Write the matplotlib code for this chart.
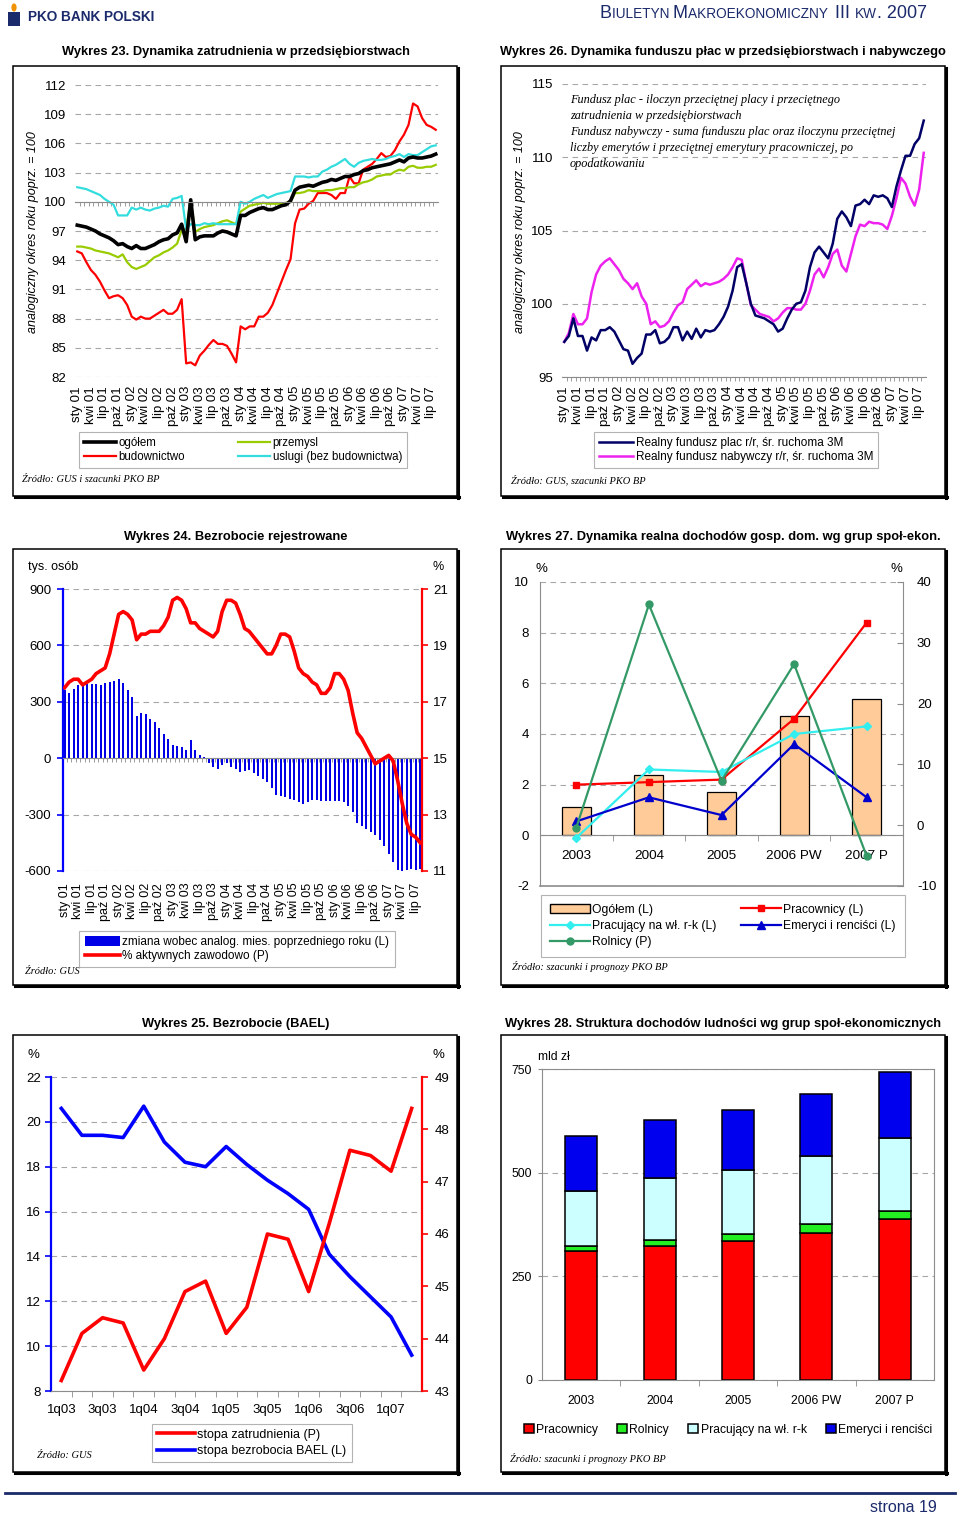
import numpy as np
import matplotlib
matplotlib.use('Agg')
import matplotlib.pyplot as plt
from matplotlib import font_manager
from matplotlib.patches import Rectangle, Patch, Circle
from matplotlib.lines import Line2D
from matplotlib.offsetbox import TextArea, HPacker, AnnotationBbox

# ============================ DATA ============================
month_labels = ['sty 01', 'kwi 01', 'lip 01', 'paź 01', 'sty 02', 'kwi 02', 'lip 02', 'paź 02',
                'sty 03', 'kwi 03', 'lip 03', 'paź 03', 'sty 04', 'kwi 04', 'lip 04', 'paź 04',
                'sty 05', 'kwi 05', 'lip 05', 'paź 05', 'sty 06', 'kwi 06', 'lip 06', 'paź 06',
                'sty 07', 'kwi 07', 'lip 07']

# Wykres 23 (monthly, sty 01 - sie 07)
w23_ogolem = [97.6, 97.5, 97.4, 97.2, 97.0, 96.7, 96.5, 96.3, 96.0, 95.6,
              95.7, 95.4, 95.2, 95.5, 95.2, 95.2, 95.4, 95.6, 95.9, 96.1,
              96.2, 96.6, 96.8, 97.7, 95.9, 100.2, 96.1, 96.4, 96.5, 96.5,
              96.5, 96.8, 97.0, 96.9, 96.7, 96.5, 98.6, 98.6, 98.9, 99.1,
              99.3, 99.4, 99.2, 99.2, 99.4, 99.6, 99.7, 100.1, 101.2, 101.5,
              101.6, 101.7, 101.6, 101.8, 102.0, 102.1, 102.3, 102.2, 102.4, 102.6,
              102.6, 102.8, 102.9, 103.2, 103.3, 103.5, 103.6, 103.7, 103.8, 103.9,
              104.1, 104.3, 104.1, 104.5, 104.6, 104.5, 104.5, 104.6, 104.7, 104.9]
w23_budownictwo = [94.9, 94.7, 93.8, 93.0, 92.5, 91.8, 90.9, 90.1, 90.3, 90.4,
                   90.1, 89.4, 88.2, 87.9, 88.2, 88.0, 88.0, 88.3, 88.6, 88.9,
                   88.5, 88.5, 88.9, 90.0, 83.4, 83.5, 83.2, 84.2, 84.7, 85.3,
                   85.8, 85.4, 85.4, 85.2, 84.4, 83.5, 87.2, 86.9, 87.2, 87.2,
                   88.2, 88.2, 88.6, 89.4, 90.6, 91.8, 93.0, 94.1, 97.8, 99.2,
                   99.3, 99.8, 100.1, 100.9, 100.9, 100.9, 100.7, 100.3, 100.9, 100.9,
                   102.6, 101.9, 101.9, 103.3, 103.6, 103.9, 104.4, 105.0, 104.6, 104.7,
                   105.3, 106.2, 106.9, 107.9, 110.1, 109.8, 108.6, 107.9, 107.7, 107.4]
w23_przemysl = [95.4, 95.4, 95.3, 95.2, 95.0, 94.9, 94.8, 94.7, 94.5, 94.3,
                94.6, 93.8, 93.3, 93.1, 93.3, 93.5, 93.9, 94.3, 94.5, 94.8,
                95.0, 95.3, 95.7, 97.1, 97.2, 100.2, 96.9, 97.2, 97.4, 97.5,
                97.6, 97.8, 98.0, 98.1, 97.9, 97.7, 99.0, 99.3, 99.6, 99.7,
                99.8, 99.9, 99.8, 99.8, 99.8, 99.8, 99.9, 100.0, 100.9, 100.9,
                101.0, 101.2, 101.1, 101.1, 101.1, 101.2, 101.2, 101.3, 101.4, 101.4,
                101.5, 101.5, 101.8, 102.0, 102.1, 102.3, 102.6, 102.7, 102.8, 102.8,
                103.1, 103.3, 103.2, 103.6, 103.7, 103.5, 103.5, 103.6, 103.6, 103.8]
w23_uslugi = [101.5, 101.4, 101.3, 101.1, 100.9, 100.7, 100.3, 100.0, 99.7, 98.6,
              98.6, 98.6, 99.4, 99.2, 99.4, 99.2, 99.1, 99.3, 99.4, 99.6,
              99.5, 100.3, 100.4, 100.6, 97.2, 97.7, 97.6, 97.6, 97.8, 97.7,
              97.8, 97.7, 97.7, 97.7, 97.7, 97.7, 100.0, 99.8, 100.0, 100.3,
              100.5, 100.7, 100.4, 100.6, 100.8, 100.9, 101.0, 101.1, 102.6, 102.6,
              102.6, 102.5, 102.6, 102.6, 103.1, 103.3, 103.6, 103.8, 104.1, 104.4,
              103.9, 103.6, 104.0, 104.2, 104.3, 104.4, 104.3, 104.3, 104.4, 104.6,
              104.7, 104.9, 104.6, 104.9, 104.8, 104.8, 105.1, 105.4, 105.7, 105.8]

# Wykres 26 (monthly)
w26_fundusz_plac = [97.4, 97.8, 99.0, 97.8, 97.8, 96.8, 97.7, 97.5, 98.2, 98.2,
                    98.4, 98.1, 97.5, 96.9, 96.8, 95.9, 96.3, 96.6, 97.9, 97.9,
                    98.2, 97.3, 97.4, 97.7, 98.4, 98.4, 97.5, 98.1, 97.6, 98.3,
                    97.7, 98.2, 98.1, 98.2, 98.6, 99.1, 99.8, 100.9, 102.5, 102.7,
                    101.4, 100.0, 99.2, 99.1, 99.0, 98.8, 98.6, 98.1, 98.3, 99.0,
                    99.6, 100.0, 100.1, 100.9, 102.5, 103.5, 103.9, 103.5, 103.1, 104.1,
                    105.8, 106.3, 105.9, 105.3, 106.7, 106.8, 107.1, 106.8, 107.4, 107.3,
                    107.4, 107.2, 106.6, 108.0, 109.1, 110.1, 110.1, 110.9, 111.3, 112.5]
w26_fundusz_nabywczy = [97.4, 98.0, 99.3, 98.6, 98.6, 99.0, 100.8, 102.0, 102.6, 102.9,
                        103.1, 102.7, 102.3, 101.7, 101.4, 101.0, 101.4, 100.5, 100.0, 98.6,
                        98.8, 98.4, 98.5, 98.8, 99.4, 99.9, 100.1, 101.0, 101.3, 101.6,
                        101.2, 101.4, 101.3, 101.4, 101.5, 101.7, 102.0, 102.5, 103.1, 103.0,
                        101.4, 99.9, 99.6, 99.3, 99.2, 99.1, 98.8, 99.0, 99.4, 99.7,
                        99.7, 99.6, 99.6, 100.0, 100.9, 102.0, 102.4, 101.8, 102.5, 103.4,
                        103.7, 102.6, 102.2, 103.4, 104.6, 105.4, 105.3, 105.6, 105.5, 105.5,
                        105.4, 105.1, 106.0, 107.2, 108.6, 108.2, 107.3, 106.7, 107.8, 110.3]

# Wykres 24 (monthly)
w24_zmiana = [362, 348, 366, 389, 389, 394, 394, 394, 392, 398,
              406, 412, 419, 401, 362, 327, 225, 241, 234, 211,
              192, 163, 131, 103, 69, 66, 57, 43, 96, 43,
              18, 7, -28, -46, -55, -37, -28, -46, -55, -73,
              -67, -64, -78, -96, -108, -126, -156, -197, -202, -209,
              -215, -220, -233, -245, -233, -224, -220, -227, -227, -227,
              -227, -227, -233, -256, -286, -344, -362, -375, -392, -410,
              -437, -469, -508, -552, -596, -600, -596, -588, -593, -588]
w24_stopa = [17.5, 17.7, 17.8, 17.8, 17.6, 17.7, 17.8, 18.0, 18.1, 18.2,
             18.7, 19.4, 20.1, 20.2, 20.1, 19.9, 19.2, 19.4, 19.4, 19.5,
             19.5, 19.5, 19.7, 20.0, 20.6, 20.7, 20.6, 20.3, 19.8, 19.8,
             19.6, 19.5, 19.4, 19.3, 19.5, 20.2, 20.6, 20.6, 20.5, 20.1,
             19.6, 19.5, 19.3, 19.1, 18.9, 18.7, 18.7, 19.0, 19.4, 19.4,
             19.3, 18.8, 18.2, 18.0, 17.9, 17.7, 17.6, 17.3, 17.3, 17.5,
             18.0, 18.0, 17.8, 17.4, 16.6, 15.9, 15.7, 15.4, 15.1, 14.8,
             14.9, 15.0, 15.1, 14.9, 14.2, 13.4, 12.7, 12.3, 12.2, 12.0]

# Wykres 27
w27_kategorie = ['2003', '2004', '2005', '2006 PW', '2007 P']
w27_ogolem = [1.1, 2.4, 1.7, 4.7, 5.4]
w27_pracownicy = [2.0, 2.1, 2.2, 4.6, 8.4]
w27_pracujacy = [-0.1, 2.6, 2.5, 4.0, 4.3]
w27_emeryci = [0.55, 1.5, 0.8, 3.6, 1.5]
w27_rolnicy = [-0.4, 36.3, 7.3, 26.5, -5.1]

# Wykres 25 (quarterly)
w25_kwartaly = ['1q03', '2q03', '3q03', '4q03', '1q04', '2q04', '3q04', '4q04', '1q05',
                '2q05', '3q05', '4q05', '1q06', '2q06', '3q06', '4q06', '1q07', '2q07']
w25_bezrobocie = [20.6, 19.4, 19.4, 19.3, 20.7, 19.1, 18.2, 18.0, 18.9,
                  18.1, 17.4, 16.8, 16.1, 14.1, 13.1, 12.2, 11.3, 9.6]
w25_zatrudnienie = [43.2, 44.1, 44.4, 44.3, 43.4, 44.0, 44.9, 45.1, 44.1,
                    44.6, 46.0, 45.9, 44.9, 46.2, 47.6, 47.5, 47.2, 48.4]

# Wykres 28
w28_kategorie = ['2003', '2004', '2005', '2006 PW', '2007 P']
w28_pracownicy = [311, 322, 336, 354, 389]
w28_rolnicy = [11, 16, 16, 23, 19]
w28_pracujacy = [134, 150, 155, 162, 175]
w28_emeryci = [133, 140, 143, 151, 159]

# ============================ STYLE ============================
W, H = 960, 1519
names = {f.name for f in font_manager.fontManager.ttflist}
SANS = 'Liberation Sans' if 'Liberation Sans' in names else 'DejaVu Sans'
SERIF = 'Liberation Serif' if 'Liberation Serif' in names else 'DejaVu Serif'
NARROW = 'Liberation Sans Narrow' if 'Liberation Sans Narrow' in names else None
plt.rcParams['font.family'] = [SANS, 'DejaVu Sans']
plt.rcParams['axes.unicode_minus'] = False

NAVY = '#1B2A6B'
GRID = '#A6A6A6'
GRAY = '#8C8C8C'
DASH = (0, (5, 4))
TICK = 9.5

fig = plt.figure(figsize=(W / 100, H / 100), dpi=100)


def add_ax(x0, y0, x1, y1):
    return fig.add_axes([x0 / W, 1 - y1 / H, (x1 - x0) / W, (y1 - y0) / H])


def ftext(x, y, s, **kw):
    kw.setdefault('va', 'center')
    return fig.text(x / W, 1 - y / H, s, **kw)


def frame(x0, y0, x1, y1):
    fig.add_artist(Rectangle((x0 / W, 1 - y1 / H), (x1 - x0) / W, (y1 - y0) / H,
                             transform=fig.transFigure, fill=False, ec='black', lw=1.1))
    fig.add_artist(Line2D([(x1 + 1) / W] * 2, [1 - (y0 + 2) / H, 1 - (y1 + 2) / H],
                          transform=fig.transFigure, color='black', lw=2.2))
    fig.add_artist(Line2D([(x0 + 2) / W, (x1 + 2) / W], [1 - (y1 + 1) / H] * 2,
                          transform=fig.transFigure, color='black', lw=2.2))


def title(xc, y, s):
    if NARROW:
        ftext(xc, y, s, ha='center', fontsize=10.5, fontweight='bold', family=NARROW)
    else:
        ftext(xc, y, s, ha='center', fontsize=9.3, fontweight='bold')


def source(x, y, s):
    ftext(x, y, s, family=SERIF, style='italic', fontsize=7.5)


def legend(handles, labels, xc, yc, ncol, **kw):
    opts = dict(loc='center', bbox_to_anchor=(xc / W, 1 - yc / H), ncol=ncol, frameon=True,
                fancybox=False, edgecolor='#A0A0A0', fontsize=8.5, borderpad=0.35,
                labelspacing=0.15, handletextpad=0.2, borderaxespad=0)
    opts.update(kw)
    leg = fig.legend(handles, labels, **opts)
    leg.get_frame().set_linewidth(0.8)
    return leg


def month_axis(ax, pad, size):
    sec = ax.secondary_xaxis(0)
    sec.set_xticks(np.arange(0, 3 * len(month_labels), 3), labels=month_labels)
    sec.tick_params(axis='x', length=0, pad=pad, labelsize=size, rotation=90)
    for s in sec.spines.values():
        s.set_visible(False)
    return sec


x80 = np.arange(len(w23_ogolem))

# ============================ HEADER / FOOTER ============================
fig.add_artist(Rectangle((8 / W, 1 - 26 / H), 12 / W, 14 / H, transform=fig.transFigure,
                         fc=NAVY, ec='none'))
fig.add_artist(Circle((14 / W, 1 - 7.5 / H), 2.6 / W, transform=fig.transFigure, fc='#F39200', ec='none'))
ftext(28, 17, 'PKO BANK POLSKI', fontsize=9.8, fontweight='bold', color=NAVY)

parts = [('B', 13), ('IULETYN ', 9.8), ('M', 13), ('AKROEKONOMICZNY  ', 9.8), ('III ', 13),
         ('KW', 9.8), ('. 2007', 13)]
boxes = [TextArea(t, textprops=dict(fontsize=s, color=NAVY, family=SANS)) for t, s in parts]
pack = HPacker(children=boxes, align='baseline', pad=0, sep=0)
fig.add_artist(AnnotationBbox(pack, (927 / W, 1 - 14 / H), xycoords='figure fraction',
                              box_alignment=(1, 0.5), frameon=False, pad=0))

fig.add_artist(Line2D([5 / W, 955 / W], [1 - 1493 / H] * 2, transform=fig.transFigure,
                      color=NAVY, lw=2))
ftext(903, 1507, 'strona 19', ha='center', fontsize=11.5, color=NAVY)

# ============================ WYKRES 23 ============================
frame(13, 66, 457, 496)
title(236, 52, 'Wykres 23. Dynamika zatrudnienia w przedsiębiorstwach')
ax = add_ax(75, 85, 438, 377)
ax.plot(x80, w23_budownictwo, color='#FF0000', lw=1.6)
ax.plot(x80, w23_przemysl, color='#99CC00', lw=1.6)
ax.plot(x80, w23_uslugi, color='#33DDDD', lw=1.6)
ax.plot(x80, w23_ogolem, color='black', lw=2.6)
ax.set_xlim(-0.5, 79.5)
ax.set_ylim(82, 112)
ax.set_yticks(np.arange(82, 113, 3))
ax.yaxis.grid(True, color=GRID, ls=DASH, lw=0.8)
ax.set_axisbelow(True)
for s in ['top', 'left', 'right']:
    ax.spines[s].set_visible(False)
ax.spines['bottom'].set_position(('data', 100))
ax.spines['bottom'].set_color(GRAY)
ax.set_xticks([])
ax.set_xticks(np.arange(0.5, 79, 1), minor=True)
ax.tick_params(axis='x', which='minor', length=3, color=GRAY)
ax.tick_params(axis='y', length=0, pad=6.5, labelsize=TICK)
month_axis(ax, 6.5, 9.5)
ftext(33, 232, 'analogiczny okres roku poprz. = 100', rotation=90, ha='center',
      fontsize=9, style='italic')
legend([Line2D([], [], color='black', lw=2.6), Line2D([], [], color='#FF0000', lw=1.6),
        Line2D([], [], color='#99CC00', lw=1.6), Line2D([], [], color='#33DDDD', lw=1.6)],
       ['ogółem', 'budownictwo', 'przemysl', 'uslugi (bez budownictwa)'],
       243, 450, 2, handlelength=2.8, columnspacing=4.6, fontsize=8.3, borderpad=0.45)
source(22, 480, 'Źródło: GUS i szacunki PKO BP')

# ============================ WYKRES 26 ============================
frame(501, 66, 945, 496)
title(723, 52, 'Wykres 26. Dynamika funduszu płac w przedsiębiorstwach i nabywczego')
ax = add_ax(562, 84, 926, 377)
ax.plot(x80, w26_fundusz_nabywczy, color='#EE22EE', lw=1.8)
ax.plot(x80, w26_fundusz_plac, color='#000066', lw=1.8)
ax.set_xlim(-0.5, 79.5)
ax.set_ylim(95, 115)
ax.set_yticks(np.arange(95, 116, 5))
ax.yaxis.grid(True, color=GRID, ls=DASH, lw=0.8)
ax.set_axisbelow(True)
for s in ['top', 'left', 'right']:
    ax.spines[s].set_visible(False)
ax.spines['bottom'].set_color(GRAY)
ax.set_xticks([])
ax.set_xticks(np.arange(0.5, 79, 1), minor=True)
ax.tick_params(axis='x', which='minor', length=3, color=GRAY)
ax.tick_params(axis='y', length=0, pad=6.5, labelsize=TICK)
month_axis(ax, 6.5, 9.5)
ftext(520, 232, 'analogiczny okres roku poprz. = 100', rotation=90, ha='center',
      fontsize=9, style='italic')
note = ['Fundusz plac - iloczyn przeciętnej placy i przeciętnego',
        'zatrudnienia w przedsiębiorstwach',
        'Fundusz nabywczy - suma funduszu plac oraz iloczynu przeciętnej',
        'liczby emerytów i przeciętnej emerytury pracowniczej, po',
        'opodatkowaniu']
for k, line in enumerate(note):
    ftext(570, 100 + 16 * k, line, family=SERIF, style='italic', fontsize=8.8)
legend([Line2D([], [], color='#000066', lw=1.8), Line2D([], [], color='#EE22EE', lw=1.8)],
       ['Realny fundusz plac r/r, śr. ruchoma 3M', 'Realny fundusz nabywczy r/r, śr. ruchoma 3M'],
       736, 450, 1, handlelength=2.9, borderpad=0.45)
source(511, 480, 'Źródło: GUS, szacunki PKO BP')

# ============================ WYKRES 24 ============================
frame(13, 549, 457, 985)
title(236, 537, 'Wykres 24. Bezrobocie rejestrowane')
ax = add_ax(63, 589, 422, 871)
ax.bar(x80, w24_zmiana, width=0.42, color='#0000E6', zorder=2)
ax.set_xlim(-0.36, 79.4)
ax.set_ylim(-600, 900)
ax.set_yticks(np.arange(-600, 901, 300))
ax.yaxis.grid(True, color=GRID, ls=DASH, lw=0.8)
ax.set_axisbelow(True)
for s in ['top', 'right']:
    ax.spines[s].set_visible(False)
ax.spines['left'].set_color('#0000FF')
ax.spines['left'].set_linewidth(1.6)
ax.spines['bottom'].set_position(('data', 0))
ax.spines['bottom'].set_color(GRAY)
ax.set_xticks([])
ax.set_xticks(np.arange(0.5, 79, 1), minor=True)
ax.tick_params(axis='x', which='minor', length=3, color=GRAY)
ax.tick_params(axis='y', length=4, width=1.2, color='#0000FF', pad=4.5, labelsize=TICK)
month_axis(ax, 8.5, 9)
ax2 = ax.twinx()
ax2.plot(x80, w24_stopa, color='#FF0000', lw=2.6)
ax2.set_ylim(11, 21)
ax2.set_yticks(np.arange(11, 22, 2))
for s in ['top', 'left', 'bottom']:
    ax2.spines[s].set_visible(False)
ax2.spines['right'].set_color('#FF0000')
ax2.spines['right'].set_linewidth(1.6)
ax2.tick_params(axis='y', length=4, width=1.2, color='#FF0000', pad=4, labelsize=TICK)
ftext(28, 567, 'tys. osób', fontsize=9)
ftext(438, 567, '%', fontsize=9, ha='center')
legend([Patch(facecolor='#0000E6', edgecolor='none'), Line2D([], [], color='#FF0000', lw=2.6)],
       ['zmiana wobec analog. mies. poprzedniego roku (L)', '% aktywnych zawodowo (P)'],
       237, 949, 1, handlelength=3.0, handleheight=0.8, borderpad=0.45)
source(25, 971, 'Źródło: GUS')

# ============================ WYKRES 27 ============================
frame(501, 549, 945, 985)
title(723, 537, 'Wykres 27. Dynamika realna dochodów gosp. dom. wg grup społ-ekon.')
ax = add_ax(540, 582, 903, 886)
xc = np.arange(len(w27_kategorie))
ax.bar(xc, w27_ogolem, width=0.4, color='#FFCC99', edgecolor='black', lw=0.9, zorder=2)
ax.plot(xc, w27_pracownicy, color='#FF0000', marker='s', ms=5, lw=1.6, zorder=3)
ax.plot(xc, w27_pracujacy, color='#33EEEE', marker='D', ms=4.5, lw=1.6, zorder=3)
ax.plot(xc, w27_emeryci, color='#0000CC', marker='^', ms=6, lw=1.6, zorder=3)
ax.set_xlim(-0.5, 4.5)
ax.set_ylim(-2, 10)
ax.set_yticks(np.arange(-2, 11, 2))
ax.yaxis.grid(True, color=GRID, ls=DASH, lw=0.8)
ax.set_axisbelow(True)
ax.spines['top'].set_visible(False)
ax.spines['right'].set_visible(False)
ax.spines['left'].set_color(GRAY)
ax.spines['bottom'].set_position(('data', 0))
ax.spines['bottom'].set_color(GRAY)
ax.axhline(ax.get_ylim()[0], color=GRAY, lw=1.2, clip_on=False)
ax.set_xticks([])
ax.set_xticks(np.arange(0.5, 4, 1), minor=True)
ax.tick_params(axis='x', which='minor', length=4, color=GRAY)
ax.tick_params(axis='y', length=0, pad=8, labelsize=TICK)
for i, c in enumerate(w27_kategorie):
    ax.text(i, -0.8, c, ha='center', va='center', fontsize=9.7)
ax2 = ax.twinx()
ax2.plot(xc, w27_rolnicy, color='#339966', marker='o', ms=5, lw=1.6)
ax2.set_ylim(-10, 40)
ax2.set_yticks(np.arange(-10, 41, 10))
for s in ['top', 'left', 'bottom']:
    ax2.spines[s].set_visible(False)
ax2.spines['right'].set_color(GRAY)
ax2.tick_params(axis='y', length=4, direction='in', color=GRAY, pad=10, labelsize=TICK)
ftext(541, 569, '%', fontsize=9.5, ha='center')
ftext(896, 569, '%', fontsize=9.5, ha='center')
legend([Patch(facecolor='#FFCC99', edgecolor='black'),
        Line2D([], [], color='#33EEEE', marker='D', ms=4.5, lw=1.6),
        Line2D([], [], color='#339966', marker='o', ms=5, lw=1.6),
        Line2D([], [], color='#FF0000', marker='s', ms=5, lw=1.6),
        Line2D([], [], color='#0000CC', marker='^', ms=6, lw=1.6)],
       ['Ogółem (L)', 'Pracujący na wł. r-k (L)', 'Rolnicy (P)', 'Pracownicy (L)',
        'Emeryci i renciści (L)'],
       723, 926, 2, handlelength=3.3, handleheight=0.8, columnspacing=2.0,
       fontsize=8.7, borderpad=0.75, labelspacing=0.35)
source(512, 967, 'Źródło: szacunki i prognozy PKO BP')

# ============================ WYKRES 25 ============================
frame(13, 1035, 457, 1472)
title(236, 1024, 'Wykres 25. Bezrobocie (BAEL)')
ax = add_ax(51, 1077, 422, 1391)
q = np.arange(len(w25_kwartaly))
ax.plot(q, w25_bezrobocie, color='#0000FF', lw=2.6)
ax.set_xlim(-0.5, 17.5)
ax.set_ylim(8, 22)
ax.set_yticks(np.arange(8, 23, 2))
ax.yaxis.grid(True, color=GRID, ls=DASH, lw=0.8)
ax.set_axisbelow(True)
ax.spines['top'].set_visible(False)
ax.spines['right'].set_visible(False)
ax.spines['left'].set_color('#0000FF')
ax.spines['left'].set_linewidth(1.6)
ax.spines['bottom'].set_color(GRAY)
ax.set_xticks(q[::2], labels=w25_kwartaly[::2])
ax.set_xticks(np.arange(0.5, 17, 1), minor=True)
ax.tick_params(axis='x', which='major', length=0, pad=9, labelsize=9.5)
ax.tick_params(axis='x', which='minor', length=4, color=GRAY)
ax.tick_params(axis='y', length=4, width=1.2, color='#0000FF', pad=3.5, labelsize=TICK)
ax2 = ax.twinx()
ax2.plot(q, w25_zatrudnienie, color='#FF0000', lw=2.6)
ax2.set_ylim(43, 49)
ax2.set_yticks(np.arange(43, 50, 1))
for s in ['top', 'left', 'bottom']:
    ax2.spines[s].set_visible(False)
ax2.spines['right'].set_color('#FF0000')
ax2.spines['right'].set_linewidth(1.6)
ax2.tick_params(axis='y', length=4, width=1.2, color='#FF0000', pad=5, labelsize=TICK)
ftext(33, 1055, '%', fontsize=9.5, ha='center')
ftext(438, 1055, '%', fontsize=9.5, ha='center')
legend([Line2D([], [], color='#FF0000', lw=2.6), Line2D([], [], color='#0000FF', lw=2.6)],
       ['stopa zatrudnienia (P)', 'stopa bezrobocia BAEL (L)'],
       252, 1443, 1, handlelength=3.0, fontsize=9, labelspacing=0.35, borderpad=0.4)
source(37, 1456, 'Źródło: GUS')

# ============================ WYKRES 28 ============================
frame(501, 1035, 945, 1472)
title(723, 1024, 'Wykres 28. Struktura dochodów ludności wg grup społ-ekonomicznych')
ax = add_ax(542, 1069, 934, 1380)
xc = np.arange(len(w28_kategorie))
series28 = [(w28_pracownicy, '#FF0000', 'Pracownicy'), (w28_rolnicy, '#22EE22', 'Rolnicy'),
            (w28_pracujacy, '#CCFFFF', 'Pracujący na wł. r-k'),
            (w28_emeryci, '#0000EE', 'Emeryci i renciści')]
bottom = np.zeros(len(xc))
for vals, col, lab in series28:
    ax.bar(xc, vals, bottom=bottom, width=0.41, color=col, edgecolor='black', lw=1.1,
           zorder=2, label=lab)
    bottom = bottom + np.array(vals)
ax.set_xlim(-0.5, 4.5)
ax.set_ylim(0, 750)
ax.set_yticks(np.arange(0, 751, 250))
ax.yaxis.grid(True, color=GRID, ls=DASH, lw=0.8)
ax.set_axisbelow(True)
for s in ax.spines.values():
    s.set_color(GRAY)
ax.set_xticks(xc, labels=w28_kategorie)
ax.set_xticks(np.arange(0.5, 4, 1), minor=True)
ax.tick_params(axis='x', which='major', length=0, pad=11, labelsize=8.7)
ax.tick_params(axis='x', which='minor', length=4, color=GRAY)
ax.tick_params(axis='y', length=3, color=GRAY, pad=4, labelsize=8.7)
ftext(538, 1057, 'mld zł', fontsize=8.7)
h, l = ax.get_legend_handles_labels()
fig.legend(h, l, loc='center', bbox_to_anchor=(728 / W, 1 - 1430 / H), ncol=4, frameon=False,
           fontsize=8.7, handlelength=0.8, handleheight=0.8, handletextpad=0.2,
           columnspacing=1.6, borderaxespad=0)
source(510, 1458, 'Źródło: szacunki i prognozy PKO BP')

fig.savefig('out.png', dpi=100)
